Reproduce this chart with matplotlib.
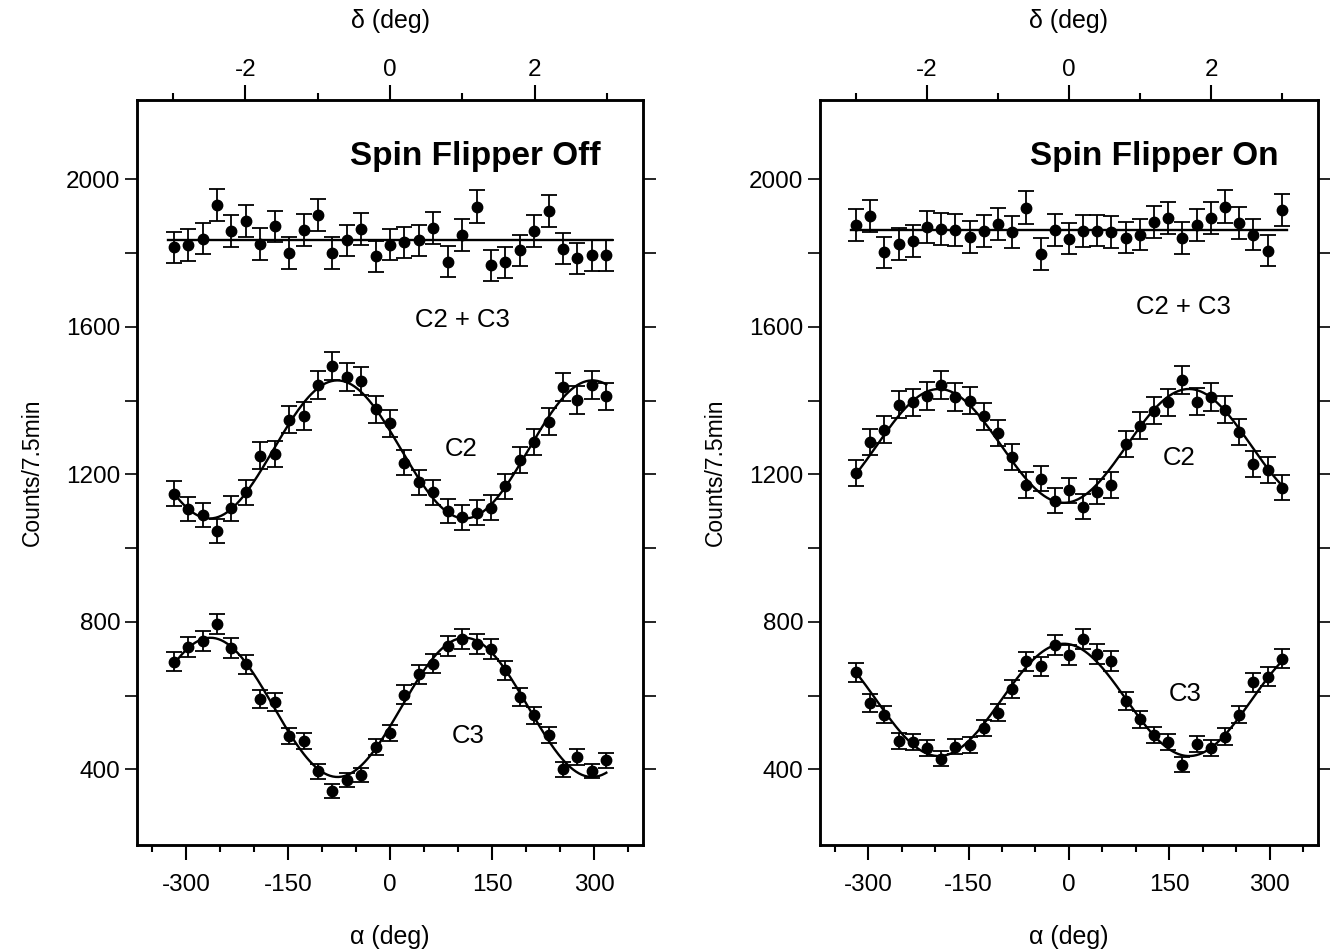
import numpy as np
import matplotlib.pyplot as plt
from matplotlib.ticker import MultipleLocator, FixedLocator

plt.rcParams['font.family'] = ['Liberation Sans', 'DejaVu Sans']
plt.rcParams['axes.unicode_minus'] = False

# rotation angle of the analyser (deg), same grid for both runs
alpha = [-318.0, -296.8, -275.6, -254.4, -233.2, -212.0, -190.8, -169.6,
         -148.4, -127.2, -106.0, -84.8, -63.6, -42.4, -21.2, 0.0, 21.2,
         42.4, 63.6, 84.8, 106.0, 127.2, 148.4, 169.6, 190.8, 212.0, 233.2,
         254.4, 275.6, 296.8, 318.0]

# spin flipper off
off_sum = [1815, 1822, 1839, 1931, 1859, 1886, 1825, 1872, 1800, 1863, 1904,
           1800, 1834, 1866, 1791, 1823, 1829, 1834, 1868, 1777, 1848, 1926,
           1767, 1775, 1807, 1860, 1914, 1812, 1786, 1794, 1794]
off_c2 = [1147, 1106, 1090, 1046, 1108, 1151, 1251, 1255, 1348, 1358, 1441,
          1494, 1463, 1453, 1376, 1338, 1232, 1178, 1151, 1100, 1083, 1096,
          1110, 1168, 1239, 1287, 1343, 1436, 1402, 1441, 1411]
off_c3 = [692, 732, 749, 794, 730, 685, 590, 583, 490, 478, 395, 342, 371,
          385, 461, 499, 603, 658, 687, 735, 753, 741, 726, 669, 597, 547,
          493, 400, 434, 396, 425]

# spin flipper on
on_sum = [1877, 1901, 1802, 1825, 1833, 1870, 1866, 1863, 1843, 1859, 1879,
          1857, 1923, 1797, 1863, 1839, 1859, 1861, 1857, 1842, 1850, 1884,
          1895, 1841, 1875, 1895, 1926, 1881, 1850, 1806, 1917]
on_c2 = [1203, 1288, 1321, 1389, 1395, 1412, 1441, 1409, 1400, 1357, 1312,
         1248, 1171, 1188, 1129, 1157, 1112, 1153, 1171, 1282, 1332, 1373,
         1395, 1455, 1397, 1409, 1375, 1315, 1227, 1212, 1164]
on_c3 = [664, 581, 548, 478, 473, 457, 429, 462, 467, 512, 554, 618, 693,
         679, 737, 711, 753, 712, 694, 585, 536, 493, 473, 413, 469, 458,
         489, 548, 636, 651, 700]


def fit_sine(x, y):
    # weighted least squares A + B cos(wx) + C sin(wx), scanning the period
    x = np.asarray(x, float)
    y = np.asarray(y, float)
    w8 = 1 / np.sqrt(y)
    best = None
    for period in np.arange(330, 430, 0.5):
        w = 2 * np.pi / period
        m = np.column_stack([np.ones_like(x), np.cos(w * x), np.sin(w * x)])
        coef, *_ = np.linalg.lstsq(m * w8[:, None], y * w8, rcond=None)
        chi = np.sum(((m @ coef - y) * w8) ** 2)
        if best is None or chi < best[0]:
            best = (chi, w, coef)
    _, w, coef = best
    xf = np.linspace(x[0], x[-1], 300)
    return xf, coef[0] + coef[1] * np.cos(w * xf) + coef[2] * np.sin(w * xf)


def draw_panel(ax, total, c2, c3, title, pos):
    for y in (total, c2, c3):
        ax.errorbar(alpha, y, yerr=np.sqrt(y), fmt='o', color='black', ms=7.5,
                    elinewidth=1.3, capsize=6, capthick=1.3)
    mean = np.average(total, weights=1 / np.asarray(total, float))
    ax.plot([alpha[0] - 8, alpha[-1] + 8], [mean, mean], color='black', lw=1.7)
    for y in (c2, c3):
        xf, yf = fit_sine(alpha, y)
        ax.plot(xf, yf, color='black', lw=1.7)

    ax.set_xlim(-372, 372)
    ax.set_ylim(195, 2215)
    ax.xaxis.set_major_locator(FixedLocator([-300, -150, 0, 150, 300]))
    ax.xaxis.set_minor_locator(MultipleLocator(50))
    ax.yaxis.set_major_locator(FixedLocator([400, 800, 1200, 1600, 2000]))
    ax.yaxis.set_minor_locator(FixedLocator([600, 1000, 1400, 1800]))
    ax.tick_params(axis='x', which='major', direction='out', length=11, width=1.5,
                   labelsize=17.5, pad=10)
    ax.tick_params(axis='x', which='minor', direction='out', length=5, width=1.5)
    ax.tick_params(axis='y', which='both', direction='out', length=9, width=1.2,
                   right=True, labelsize=17.5, pad=3)
    for s in ax.spines.values():
        s.set_linewidth(1.8)
    ax.set_xlabel('α (deg)', fontsize=18, labelpad=21)
    ax.set_ylabel('Counts/7.5min', fontsize=16.5, labelpad=16)

    top = ax.twiny()
    top.set_xlim(-3.5, 3.5)
    top.xaxis.set_major_locator(MultipleLocator(2))
    top.xaxis.set_minor_locator(MultipleLocator(1))
    top.tick_params(axis='x', which='major', direction='out', length=11, width=1.5,
                    labelsize=17.5, pad=3)
    top.tick_params(axis='x', which='minor', direction='out', length=5, width=1.5)
    top.set_xlabel('δ (deg)', fontsize=18, labelpad=22)
    for s in top.spines.values():
        s.set_linewidth(1.8)

    ax.text(pos[0][0], pos[0][1], title, fontsize=24, fontweight='bold',
            ha='right', va='center')
    ax.text(pos[1][0], pos[1][1], 'C2 + C3', fontsize=18.5, ha='center', va='center')
    ax.text(pos[2][0], pos[2][1], 'C2', fontsize=18.5, ha='center', va='center')
    ax.text(pos[3][0], pos[3][1], 'C3', fontsize=18.5, ha='center', va='center')


fig = plt.figure(figsize=(13.3, 9.52), dpi=100)
ax1 = fig.add_axes([0.103, 0.1124, 0.3805, 0.7826])
ax2 = fig.add_axes([0.6165, 0.1124, 0.3744, 0.7826])

draw_panel(ax1, off_sum, off_c2, off_c3, 'Spin Flipper Off',
           [(310, 2063), (107, 1619), (105, 1268), (115, 490)])
draw_panel(ax2, on_sum, on_c2, on_c3, 'Spin Flipper On',
           [(314, 2063), (171, 1654), (165, 1244), (174, 604)])

fig.savefig('out.png', dpi=100)
